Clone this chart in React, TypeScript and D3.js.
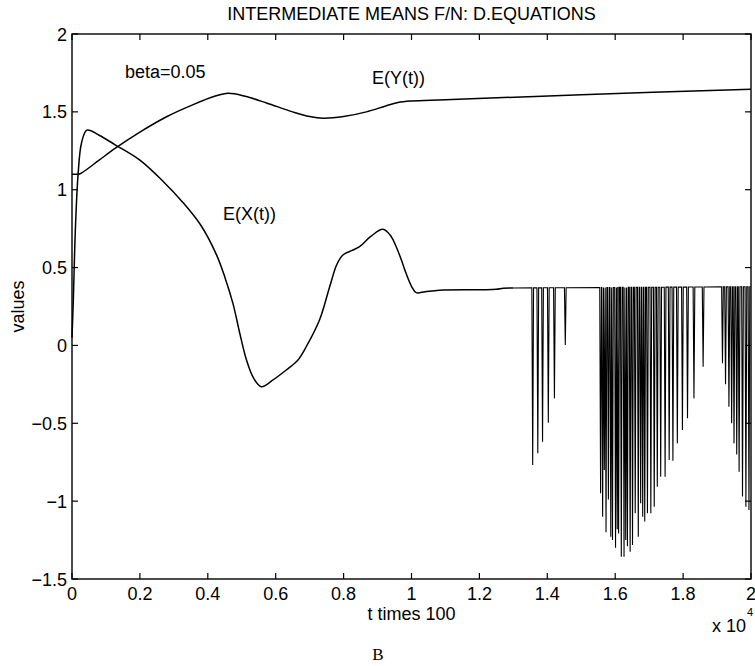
import React from "react";
import * as d3 from "d3";

const xTicks = [0, 0.2, 0.4, 0.6, 0.8, 1, 1.2, 1.4, 1.6, 1.8, 2];
const xTickLabels = ["0", "0.2", "0.4", "0.6", "0.8", "1", "1.2", "1.4", "1.6", "1.8", "2"];
const yTicks = [-1.5, -1, -0.5, 0, 0.5, 1, 1.5, 2];
const yTickLabels = ["\u22121.5", "\u22121", "\u22120.5", "0", "0.5", "1", "1.5", "2"];

// E(X(t)) smooth part
const exT = [0, 0.004, 0.01, 0.018, 0.028, 0.044, 0.08, 0.126, 0.2, 0.27, 0.326, 0.38, 0.426, 0.45, 0.474, 0.494, 0.514, 0.535, 0.558, 0.59, 0.631, 0.665, 0.69, 0.729, 0.759, 0.78, 0.798, 0.825, 0.847, 0.88, 0.916, 0.94, 0.955, 0.97, 0.984, 1.0, 1.014, 1.04, 1.082, 1.2, 1.25, 1.27, 1.3];
const exV = [0.05, 0.3, 0.75, 1.1, 1.3, 1.383, 1.35, 1.29, 1.19, 1.05, 0.92, 0.77, 0.58, 0.44, 0.27, 0.08, -0.094, -0.21, -0.265, -0.225, -0.158, -0.095, -0.008, 0.163, 0.377, 0.52, 0.581, 0.61, 0.634, 0.7, 0.746, 0.7, 0.634, 0.55, 0.463, 0.38, 0.339, 0.345, 0.355, 0.358, 0.36, 0.367, 0.369];

// E(X(t)) baseline after t=1.3 (read at both ends)
const baseT = [1.3, 2.0];
const baseV = [0.369, 0.377];

// downward spikes of E(X(t))
const spikeT = [1.357, 1.372, 1.386, 1.403, 1.421, 1.453,
  1.557, 1.563, 1.568, 1.573, 1.580, 1.587, 1.592, 1.601, 1.606, 1.610, 1.618, 1.626, 1.631, 1.636, 1.644, 1.651, 1.659, 1.668, 1.675, 1.681, 1.687, 1.695, 1.705, 1.715, 1.724, 1.734, 1.747, 1.759, 1.770, 1.783, 1.798, 1.813, 1.832, 1.859,
  1.916, 1.925, 1.935, 1.943, 1.950, 1.958, 1.965, 1.975, 1.985, 1.994];
const spikeV = [-0.768, -0.693, -0.618, -0.496, -0.34, 0.003,
  -0.95, -1.1, -0.8, -1.2, -0.99, -1.228, -1.25, -1.3, -1.18, -1.207, -1.357, -1.357, -1.25, -1.29, -1.325, -1.282, -1.078, -1.228, -1.014, -1.1, -1.13, -1.078, -1.078, -1.036, -0.907, -0.843, -0.843, -0.736, -0.74, -0.629, -0.543, -0.468, -0.34, -0.137,
  -0.115, -0.25, -0.394, -0.5, -0.629, -0.7, -0.811, -0.97, -1.036, -1.057];

// E(Y(t))
const eyT = [0, 0.02, 0.03, 0.08, 0.13, 0.2, 0.28, 0.35, 0.42, 0.46, 0.51, 0.573, 0.65, 0.7, 0.74, 0.8, 0.867, 0.92, 0.96, 1.0, 1.1, 1.5, 2.0];
const eyV = [1.1, 1.1, 1.11, 1.19, 1.27, 1.37, 1.47, 1.54, 1.6, 1.619, 1.6, 1.557, 1.5, 1.47, 1.459, 1.47, 1.5, 1.535, 1.56, 1.57, 1.578, 1.61, 1.645];

const W = 755;
const H = 666;
const L = 72, R = 751, T = 34, B = 579;

export default function App() {
  const x = d3.scaleLinear().domain([0, 2]).range([L, R]);
  const y = d3.scaleLinear().domain([-1.5, 2]).range([B, T]);
  const base = d3.scaleLinear().domain(baseT).range(baseV);

  const smooth = d3.line<[number, number]>().x(d => x(d[0])).y(d => y(d[1])).curve(d3.curveCatmullRom.alpha(0.5));
  const lin = d3.line<[number, number]>().x(d => x(d[0])).y(d => y(d[1]));

  const exPts: [number, number][] = exT.map((t, i) => [t, exV[i]]);
  const eyPts: [number, number][] = eyT.map((t, i) => [t, eyV[i]]);

  const d = 0.0025;
  const spikePts: [number, number][] = [[baseT[0], baseV[0]]];
  spikeT.forEach((t, i) => {
    spikePts.push([t - d, base(t - d)]);
    spikePts.push([t, spikeV[i]]);
    spikePts.push([t + d, base(t + d)]);
  });
  spikePts.push([baseT[1], baseV[1]]);

  const font = "'Liberation Sans', Arial, Helvetica, sans-serif";
  const tickLen = 6;
  const fs = 18;

  return (
    <svg width={W} height={H} style={{ position: "absolute", left: 0, top: 0, background: "#fff" }} fontFamily={font}>
      <rect x={0} y={0} width={W} height={H} fill="#fff" />
      <text x={(L + R) / 2} y={20} fontSize={fs} textAnchor="middle">INTERMEDIATE MEANS F/N: D.EQUATIONS</text>

      <path d={smooth(eyPts) || ""} fill="none" stroke="#000" strokeWidth={1.5} />
      <path d={smooth(exPts) || ""} fill="none" stroke="#000" strokeWidth={1.5} />
      <path d={lin(spikePts) || ""} fill="none" stroke="#000" strokeWidth={1.1} />

      <rect x={L} y={T} width={R - L} height={B - T} fill="none" stroke="#000" strokeWidth={1.4} />

      {xTicks.map((t, i) => (
        <g key={"xt" + i}>
          <line x1={x(t)} x2={x(t)} y1={B} y2={B - tickLen} stroke="#000" strokeWidth={1.2} />
          <line x1={x(t)} x2={x(t)} y1={T} y2={T + tickLen} stroke="#000" strokeWidth={1.2} />
          <text x={x(t)} y={600} fontSize={fs} textAnchor="middle">{xTickLabels[i]}</text>
        </g>
      ))}
      {yTicks.map((v, i) => (
        <g key={"yt" + i}>
          <line x1={L} x2={L + tickLen} y1={y(v)} y2={y(v)} stroke="#000" strokeWidth={1.2} />
          <line x1={R} x2={R - tickLen} y1={y(v)} y2={y(v)} stroke="#000" strokeWidth={1.2} />
          <text x={L - 5} y={y(v) + 6.5} fontSize={fs} textAnchor="end">{yTickLabels[i]}</text>
        </g>
      ))}

      <text x={(L + R) / 2} y={620} fontSize={fs} textAnchor="middle">t times 100</text>
      <text x={712} y={632} fontSize={fs}>x 10</text>
      <text x={747} y={616} fontSize={11}>4</text>
      <text transform={`translate(24, ${(T + B) / 2}) rotate(-90)`} fontSize={fs} textAnchor="middle">values</text>

      <text x={125} y={78} fontSize={fs}>beta=0.05</text>
      <text x={372} y={84} fontSize={fs}>E(Y(t))</text>
      <text x={223} y={220} fontSize={fs}>E(X(t))</text>

      <text x={378} y={660} fontSize={17} fontFamily="'Liberation Serif', 'Times New Roman', serif" textAnchor="middle">B</text>
    </svg>
  );
}
